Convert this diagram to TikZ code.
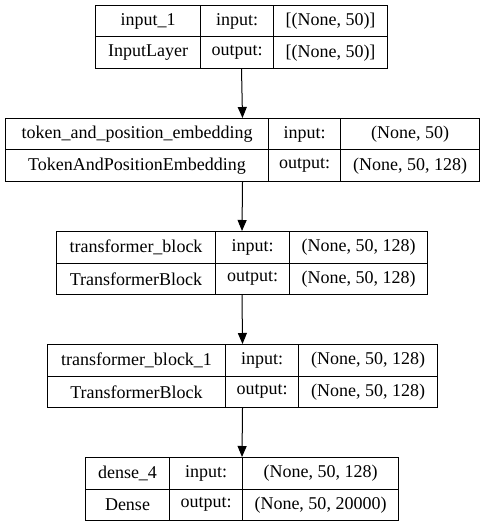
\documentclass[tikz,border=0pt]{standalone}
\usepackage{fontspec}
\setmainfont{Liberation Serif}
\newfontfamily\layerfont{Liberation Serif}
\usetikzlibrary{arrows.meta}

\begin{document}
\begin{tikzpicture}[x=1pt,y=-1pt,
    cell/.style={draw,line width=1pt,inner sep=0pt,anchor=north west,minimum height=31.5pt,font=\layerfont\fontsize{18}{20}\selectfont},
    layer/.style={draw,line width=1pt,inner sep=0pt,anchor=north west,minimum height=63pt}]
    \useasboundingbox (0,0) rectangle (484,526);
    % input_1
    \node[layer,minimum width=292pt] (input1) at (95,5) {};
    \node[cell,minimum width=105pt] (input1-name) at (95,5) {input\_1};
    \node[cell,minimum width=73pt] (input1-in) at (200,5) {input:};
    \node[cell,minimum width=114pt] (input1-ins) at (273,5) {[(None, 50)]};
    \node[cell,minimum width=105pt] (input1-type) at (95,36.5) {InputLayer};
    \node[cell,minimum width=73pt] (input1-out) at (200,36.5) {output:};
    \node[cell,minimum width=114pt] (input1-outs) at (273,36.5) {[(None, 50)]};
    % token_and_position_embedding
    \node[layer,minimum width=474pt] (tokemb) at (5,118) {};
    \node[cell,minimum width=263pt] (tokemb-name) at (5,118) {token\_and\_position\_embedding};
    \node[cell,minimum width=72pt] (tokemb-in) at (268,118) {input:};
    \node[cell,minimum width=139pt] (tokemb-ins) at (340,118) {(None, 50)};
    \node[cell,minimum width=263pt] (tokemb-type) at (5,149.5) {TokenAndPositionEmbedding};
    \node[cell,minimum width=72pt] (tokemb-out) at (268,149.5) {output:};
    \node[cell,minimum width=139pt] (tokemb-outs) at (340,149.5) {(None, 50, 128)};
    % transformer_block
    \node[layer,minimum width=371pt] (tblock) at (56,231) {};
    \node[cell,minimum width=159pt] (tblock-name) at (56,231) {transformer\_block};
    \node[cell,minimum width=74pt] (tblock-in) at (215,231) {input:};
    \node[cell,minimum width=138pt] (tblock-ins) at (289,231) {(None, 50, 128)};
    \node[cell,minimum width=159pt] (tblock-type) at (56,262.5) {TransformerBlock};
    \node[cell,minimum width=74pt] (tblock-out) at (215,262.5) {output:};
    \node[cell,minimum width=138pt] (tblock-outs) at (289,262.5) {(None, 50, 128)};
    % transformer_block_1
    \node[layer,minimum width=390pt] (tblock1) at (47,344) {};
    \node[cell,minimum width=178pt] (tblock1-name) at (47,344) {transformer\_block\_1};
    \node[cell,minimum width=73pt] (tblock1-in) at (225,344) {input:};
    \node[cell,minimum width=139pt] (tblock1-ins) at (298,344) {(None, 50, 128)};
    \node[cell,minimum width=178pt] (tblock1-type) at (47,375.5) {TransformerBlock};
    \node[cell,minimum width=73pt] (tblock1-out) at (225,375.5) {output:};
    \node[cell,minimum width=139pt] (tblock1-outs) at (298,375.5) {(None, 50, 128)};
    % dense_4
    \node[layer,minimum width=313pt] (dense4) at (85,457) {};
    \node[cell,minimum width=84pt] (dense4-name) at (85,457) {dense\_4};
    \node[cell,minimum width=73pt] (dense4-in) at (169,457) {input:};
    \node[cell,minimum width=156pt] (dense4-ins) at (242,457) {(None, 50, 128)};
    \node[cell,minimum width=84pt] (dense4-type) at (85,488.5) {Dense};
    \node[cell,minimum width=73pt] (dense4-out) at (169,488.5) {output:};
    \node[cell,minimum width=156pt] (dense4-outs) at (242,488.5) {(None, 50, 20000)};
    \draw[-{Triangle[length=11pt,width=9pt]},line width=1pt] (input1.south) -- (tokemb.north);
    \draw[-{Triangle[length=11pt,width=9pt]},line width=1pt] (tokemb.south) -- (tblock.north);
    \draw[-{Triangle[length=11pt,width=9pt]},line width=1pt] (tblock.south) -- (tblock1.north);
    \draw[-{Triangle[length=11pt,width=9pt]},line width=1pt] (tblock1.south) -- (dense4.north);
\end{tikzpicture}
\end{document}
